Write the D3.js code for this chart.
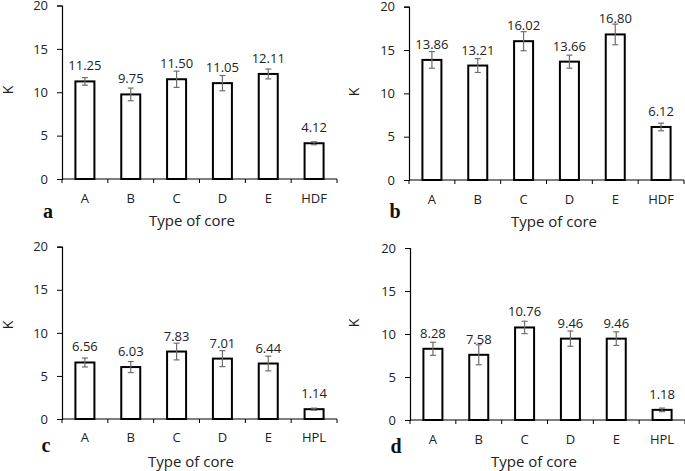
<!DOCTYPE html>
<html><head><meta charset="utf-8">
<script src="https://cdn.jsdelivr.net/npm/d3@7"></script>
<style>body{margin:0;background:#fff}svg{display:block}</style>
</head><body>
<svg id="c" width="685" height="471"></svg>
<script>
const catsHDF = ["A","B","C","D","E","HDF"];
const catsHPL = ["A","B","C","D","E","HPL"];
const valuesA = [11.25, 9.75, 11.50, 11.05, 12.11, 4.12];
const errorsA = [0.44, 0.73, 0.94, 0.88, 0.57, 0.17];
const valuesB = [13.86, 13.21, 16.02, 13.66, 16.80, 6.12];
const errorsB = [0.96, 0.80, 1.10, 0.75, 1.19, 0.44];
const valuesC = [6.56, 6.03, 7.83, 7.01, 6.44, 1.14];
const errorsC = [0.52, 0.64, 0.97, 0.93, 0.85, 0.12];
const valuesD = [8.28, 7.58, 10.76, 9.46, 9.46, 1.18];
const errorsD = [0.76, 1.16, 0.72, 0.89, 0.79, 0.21];
const yTicks = [0, 5, 10, 15, 20];
const xTitle = "Type of core";
const yTitle = "K";

const panels = [
  {letter:"a", cats:catsHDF, vals:valuesA, errs:errorsA, x0:62, x1:337, y0:179, y1:5.5, kx:9, ky:90, catY:203, titleX:192, titleY:226, lx:48, ly:218},
  {letter:"b", cats:catsHDF, vals:valuesB, errs:errorsB, x0:409, x1:684, y0:180, y1:6.7, kx:355, ky:92, catY:204, titleX:554, titleY:227, lx:395, ly:218},
  {letter:"c", cats:catsHPL, vals:valuesC, errs:errorsC, x0:62, x1:337, y0:419, y1:246.7, kx:9, ky:325, catY:442, titleX:191, titleY:467, lx:46, ly:452},
  {letter:"d", cats:catsHPL, vals:valuesD, errs:errorsD, x0:410, x1:685, y0:420, y1:248, kx:355, ky:323, catY:444, titleX:534, titleY:467, lx:396, ly:453}
];

const svg = d3.select("#c");
const font = "'Open Sans', 'Liberation Sans', sans-serif";

panels.forEach(p => {
  const g = svg.append("g");
  const x = d3.scaleBand().domain(p.cats).range([p.x0, p.x1]).paddingInner(0).paddingOuter(0);
  const y = d3.scaleLinear().domain([0, 20]).range([p.y0, p.y1]);
  const bw = 19;

  // y axis
  const ya = g.append("g").attr("transform", `translate(${p.x0},0)`)
    .call(d3.axisLeft(y).tickValues(yTicks).tickSize(5).tickPadding(9));
  ya.select(".domain").attr("stroke", "#000").attr("stroke-width", 1.2);
  ya.selectAll(".tick line").attr("stroke", "#000");
  ya.selectAll("text").attr("font-family", font).attr("font-size", 13).attr("fill", "#222");

  // x axis line and ticks at band boundaries
  g.append("line").attr("x1", p.x0).attr("x2", p.x1).attr("y1", p.y0).attr("y2", p.y0)
    .attr("stroke", "#000").attr("stroke-width", 1.2);
  const bounds = p.cats.map(c => x(c)).concat([x(p.cats[p.cats.length-1]) + x.bandwidth()]);
  g.selectAll(".xt").data(bounds).enter().append("line")
    .attr("x1", d => d).attr("x2", d => d).attr("y1", p.y0).attr("y2", p.y0 + 4)
    .attr("stroke", "#000");
  g.selectAll(".cl").data(p.cats).enter().append("text")
    .attr("x", d => x(d) + x.bandwidth()/2).attr("y", p.catY)
    .attr("text-anchor", "middle").attr("font-family", font).attr("font-size", 13).attr("fill", "#222")
    .text(d => d);

  const data = p.cats.map((c, i) => ({c, v: p.vals[i], e: p.errs[i]}));
  // bars
  g.selectAll(".bar").data(data).enter().append("rect")
    .attr("x", d => x(d.c) + x.bandwidth()/2 - bw/2).attr("width", bw)
    .attr("y", d => y(d.v)).attr("height", d => y(0) - y(d.v))
    .attr("fill", "#fff").attr("stroke", "#000").attr("stroke-width", 2);
  // error bars
  data.forEach(d => {
    const cx = x(d.c) + x.bandwidth()/2;
    const eg = g.append("g").attr("stroke", "#6e6e6e").attr("stroke-width", 1.2);
    eg.append("line").attr("x1", cx).attr("x2", cx).attr("y1", y(d.v + d.e)).attr("y2", y(d.v - d.e));
    eg.append("line").attr("x1", cx - 3).attr("x2", cx + 3).attr("y1", y(d.v + d.e)).attr("y2", y(d.v + d.e));
    eg.append("line").attr("x1", cx - 3).attr("x2", cx + 3).attr("y1", y(d.v - d.e)).attr("y2", y(d.v - d.e));
  });
  // value labels
  g.selectAll(".vl").data(data).enter().append("text")
    .attr("x", d => x(d.c) + x.bandwidth()/2).attr("y", d => y(d.v) - 11)
    .attr("text-anchor", "middle").attr("font-family", font).attr("font-size", 13).attr("fill", "#222")
    .text(d => d.v.toFixed(2));

  // y title
  g.append("text").attr("transform", `translate(${p.kx},${p.ky}) rotate(-90)`)
    .attr("text-anchor", "middle").attr("dominant-baseline", "middle")
    .attr("font-family", font).attr("font-size", 14).attr("fill", "#222").text(yTitle);
  // x title
  g.append("text").attr("x", p.titleX).attr("y", p.titleY).attr("text-anchor", "middle")
    .attr("font-family", font).attr("font-size", 15).attr("fill", "#222").text(xTitle);
  // panel letter
  g.append("text").attr("x", p.lx).attr("y", p.ly).attr("text-anchor", "middle")
    .attr("font-family", "'Liberation Serif', 'DejaVu Serif', serif").attr("font-weight", "bold")
    .attr("font-size", 20).attr("fill", "#111").text(p.letter);
});
</script>
</body></html>
